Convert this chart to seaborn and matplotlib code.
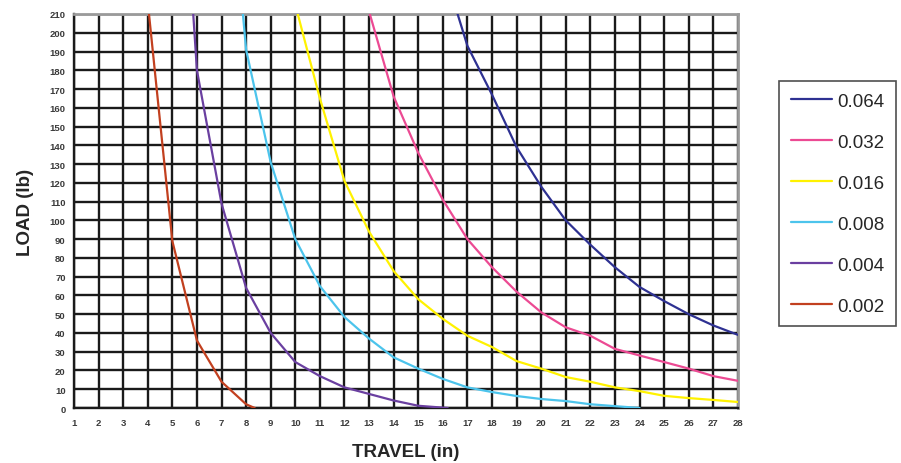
import matplotlib
matplotlib.use('Agg')
import matplotlib.pyplot as plt
import seaborn as sns
import pandas as pd

# travel (in) / load (lb) points, one list per spring
x_002 = [4.05, 5, 6, 7, 8, 8.35]
y_002 = [210, 89, 36, 14, 2, 0]

x_004 = [5.85, 6, 7, 8, 9, 10, 11, 12, 13, 14, 15, 16, 16.2]
y_004 = [210, 180, 109, 64, 40, 24.5, 17, 11, 7.5, 4, 1.2, 0.2, 0]

x_008 = [7.87, 8, 9, 10, 11, 12, 13, 14, 15, 16, 17, 18, 19, 20, 21, 22, 23, 24]
y_008 = [210, 191, 131, 90, 65, 48.5, 37, 27, 21, 15.5, 11, 8.5, 6.4, 4.8, 3.7, 2, 1, 0]

x_016 = [10.1, 11, 12, 13, 14, 15, 16, 17, 18, 19, 20, 21, 22, 23, 24, 25, 26, 27, 28]
y_016 = [210, 165, 121, 94, 73, 58, 47.5, 38.5, 32.5, 25, 21, 16.5, 14, 11, 9, 6.5, 5.3, 4.3, 3.2]

x_032 = [13.03, 14, 15, 16, 17, 18, 19, 20, 21, 22, 23, 24, 25, 26, 27, 28]
y_032 = [210, 166, 136, 111, 90, 75, 62, 51, 43, 38.5, 31.5, 28, 24.5, 21, 17, 14.5]

x_064 = [16.6, 17, 18, 19, 20, 21, 22, 23, 24, 25, 26, 27, 28]
y_064 = [210, 193, 167, 139, 118, 100, 87, 75, 64.5, 57, 50, 44, 39]

series_names = ['0.064', '0.032', '0.016', '0.008', '0.004', '0.002']
series_x = [x_064, x_032, x_016, x_008, x_004, x_002]
series_y = [y_064, y_032, y_016, y_008, y_004, y_002]
colors = ['#2e3192', '#ec4a93', '#fff200', '#4cc4ec', '#6a3fa0', '#c2401f']

x_ticks = list(range(1, 29))
y_ticks = list(range(0, 211, 10))

rows = []
for name, xs, ys in zip(series_names, series_x, series_y):
    for xv, yv in zip(xs, ys):
        rows.append({'travel': xv, 'load': yv, 'wire': name})
df = pd.DataFrame(rows)

sns.set_style('white')
plt.rcParams['font.family'] = ['Liberation Sans', 'DejaVu Sans']

fig = plt.figure(figsize=(9.01, 4.64), dpi=100)
ax = fig.add_axes([0.0821, 0.1185, 0.7369, 0.8492])

# heavy black grid
for xv in x_ticks:
    ax.axvline(xv, color='#1a1a1a', lw=1.7, zorder=1)
for yv in y_ticks:
    ax.axhline(yv, color='#1a1a1a', lw=1.7, zorder=1)

sns.lineplot(data=df, x='travel', y='load', hue='wire', hue_order=series_names,
             palette=colors, sort=False, estimator=None, lw=1.6, ax=ax,
             legend=False, zorder=3)

ax.set_xlim(1, 28)
ax.set_ylim(0, 210)
ax.set_xticks(x_ticks)
ax.set_yticks(y_ticks)
ax.tick_params(axis='both', labelsize=6.8, labelcolor='#3a3a3a', length=4,
               width=1, color='#444444', pad=2)
ax.tick_params(axis='x', length=0, pad=7)
for lab in ax.get_xticklabels() + ax.get_yticklabels():
    lab.set_fontweight('bold')

for side in ['top', 'right']:
    ax.spines[side].set_color('#9a9a9a')
    ax.spines[side].set_linewidth(2)
for side in ['left', 'bottom']:
    ax.spines[side].set_color('#1a1a1a')
    ax.spines[side].set_linewidth(1.7)

ax.set_xlabel('TRAVEL (in)', fontsize=13.5, fontweight='bold', labelpad=12)
ax.set_ylabel('LOAD (lb)', fontsize=13.5, fontweight='bold', labelpad=11)

handles = [plt.Line2D([], [], color=c, lw=1.6) for c in colors]
leg = fig.legend(handles, series_names, loc='upper left',
                 bbox_to_anchor=(0.865, 0.823), fontsize=13.5, frameon=True,
                 fancybox=False, handlelength=2.2, handletextpad=0.25,
                 labelspacing=1.27, borderpad=0.62, borderaxespad=0)
leg.get_frame().set_edgecolor('#222222')
leg.get_frame().set_linewidth(1.2)

fig.savefig('out.png', dpi=100)
